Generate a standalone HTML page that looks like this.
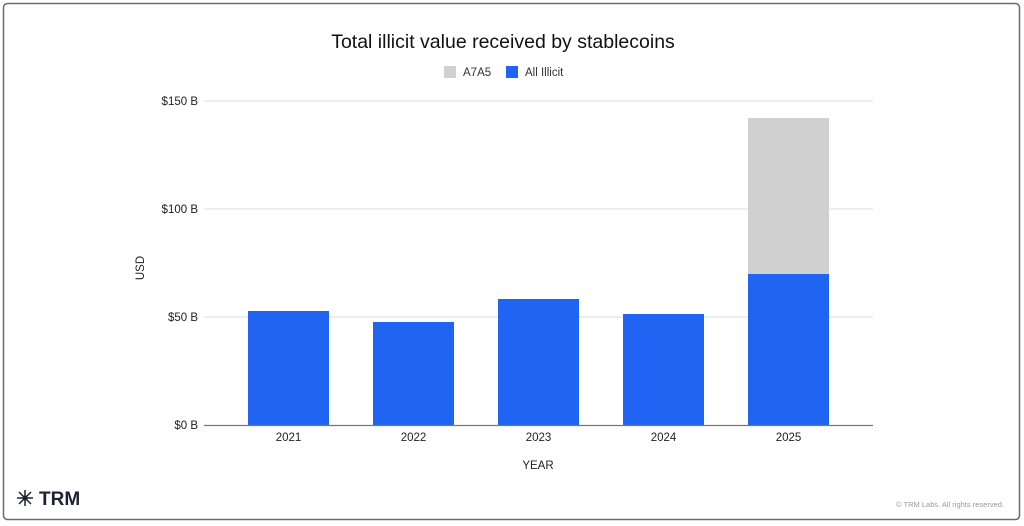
<!DOCTYPE html>
<html><head><meta charset="utf-8"><style>
html,body{margin:0;padding:0;background:#fff;}
svg{display:block;font-family:"Liberation Sans",Arial,sans-serif;}
</style></head><body>
<svg width="1024" height="526" viewBox="0 0 1024 526">
<rect x="0" y="0" width="1024" height="526" fill="#fff"/>
<rect x="3.5" y="3.5" width="1016" height="516" rx="4" fill="#fff" stroke="#6b6b6b" stroke-width="1.5"/>
<text x="503" y="48" font-size="19.5" text-anchor="middle" fill="#111">Total illicit value received by stablecoins</text>
<rect x="444" y="66" width="12" height="12" fill="#d0d0d0"/>
<text x="463" y="76" font-size="11.5" fill="#333">A7A5</text>
<rect x="506" y="66" width="12" height="12" fill="#1f64f2"/>
<text x="525" y="76" font-size="11.5" fill="#333">All Illicit</text>
<g stroke="#e3e3e3" stroke-width="1.3">
<line x1="204" y1="101" x2="873" y2="101"/>
<line x1="204" y1="209" x2="873" y2="209"/>
<line x1="204" y1="317" x2="873" y2="317"/>
</g>
<g font-size="11.5" fill="#222" text-anchor="end">
<text x="198" y="105">$150 B</text>
<text x="198" y="213">$100 B</text>
<text x="198" y="321">$50 B</text>
<text x="198" y="429">$0 B</text>
</g>
<text transform="translate(144,268) rotate(-90)" font-size="11.5" fill="#222" text-anchor="middle">USD</text>
<g fill="#1f64f2">
<rect x="248" y="311" width="81" height="114"/>
<rect x="373" y="322" width="81" height="103"/>
<rect x="498" y="299" width="81" height="126"/>
<rect x="623" y="314" width="81" height="111"/>
<rect x="748" y="274" width="81" height="151"/>
</g>
<rect x="748" y="118" width="81" height="156" fill="#d0d0d0"/>
<line x1="204" y1="425.5" x2="873" y2="425.5" stroke="#777" stroke-width="1.3"/>
<g font-size="11.5" fill="#222" text-anchor="middle">
<text x="288.5" y="441">2021</text>
<text x="413.5" y="441">2022</text>
<text x="538.5" y="441">2023</text>
<text x="663.5" y="441">2024</text>
<text x="788.5" y="441">2025</text>
</g>
<text x="538" y="469" font-size="11.5" fill="#222" text-anchor="middle">YEAR</text>
<g transform="translate(25,498)" stroke="#1b2236" stroke-width="1.5" fill="#1b2236">
<line x1="-8" y1="0" x2="8" y2="0"/><line x1="0" y1="-8" x2="0" y2="8"/>
<line x1="-6" y1="-6" x2="6" y2="6"/><line x1="-6" y1="6" x2="6" y2="-6"/>
<circle cx="0" cy="0" r="2.5" stroke="none"/>
</g>
<text x="39" y="505" font-size="19" font-weight="bold" fill="#1b2236">TRM</text>
<text x="1004" y="507" font-size="7.5" fill="#999" text-anchor="end">© TRM Labs. All rights reserved.</text>
</svg>
</body></html>
